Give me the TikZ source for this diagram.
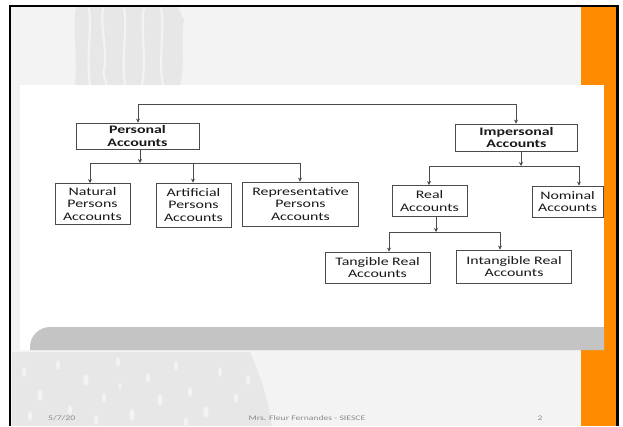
\documentclass[tikz,border=0pt]{standalone}
\usepackage{fontspec}
\setmainfont{Carlito}
\newfontfamily\boxfont[FakeStretch=1.38]{Carlito}
\usetikzlibrary{arrows.meta}
\definecolor{bgg}{HTML}{F3F3F3}
\definecolor{tex}{HTML}{E7E7E7}
\definecolor{orng}{HTML}{FF8C00}
\definecolor{band}{HTML}{C4C4C4}
\definecolor{ln}{HTML}{4A4A4A}
\definecolor{foot}{HTML}{8A8A8A}
\begin{document}
\begin{tikzpicture}[x=1pt,y=-1pt,
  acc/.style={draw=ln, line width=0.8pt, fill=white, inner sep=0pt, align=center,
    font=\boxfont\fontsize{11.5}{12.3}\selectfont, text=black!90},
  bacc/.style={acc, font=\boxfont\bfseries\fontsize{11.5}{12.3}\selectfont},
  conn/.style={draw=ln, line width=0.8pt},
  arr/.style={conn, -{Stealth[length=4pt,width=4pt]}},
  gap/.style={draw=bgg, line width=2.2pt, line cap=round},
  foottxt/.style={font=\boxfont\fontsize{7}{8}\selectfont, text=foot, inner sep=0pt}]
% background
\useasboundingbox (0,0) rectangle (623,426);
\fill[white] (0,0) rectangle (623,426);
\fill[bgg] (10,6) rectangle (617,426);
% texture top-left
\fill[tex] (76,7) .. controls (72,30) and (78,55) .. (75,85) -- (180,85)
  .. controls (186,60) and (180,40) .. (184,20) -- (178,7) -- cycle;
\draw[gap] (89,8) .. controls (92,35) and (86,55) .. (90,85);
\draw[gap] (103,8) .. controls (100,30) and (108,50) .. (104,70) .. controls (102,78) and (108,82) .. (106,85);
\draw[gap] (124,8) .. controls (128,30) and (121,55) .. (125,85);
\draw[gap] (144,8) .. controls (140,30) and (147,55) .. (142,85);
\draw[gap] (161,8) .. controls (165,30) and (158,60) .. (163,85);
% texture bottom-left
\fill[tex] (12,352) -- (250,352) .. controls (262,380) and (268,400) .. (272,426) -- (12,426) -- cycle;
\foreach \xa/\ya/\r in {24/372/2,40/395/2.5,58/365/2,70/410/2,86/380/2.5,104/398/2,118/362/2,132/415/2.5,148/378/2,160/400/2.5,176/366/2,190/392/2,206/412/2.5,220/372/2,236/398/2,248/380/2,30/416/2,96/420/2,186/422/2,120/386/1.5}{
  \fill[bgg] (\xa,\ya) ellipse ({\r pt} and {2.5*\r pt});
}
% orange band and borders
\fill[orng] (581,6) rectangle (616,426);
\fill[black] (616,5) rectangle (619,426);
\fill[black] (9,5) rectangle (619,7);
\fill[black] (9,5) rectangle (11,426);
% white content area
\fill[white] (20,85) rectangle (604,350);
\fill[band] (30,350) -- (30,347) .. controls (30,336) and (39,327) .. (50,327) -- (604,327) -- (604,350) -- cycle;
% nodes
\node[bacc, minimum width=123pt, minimum height=26pt] (per) at (137.5,136) {Personal\\Accounts};
\node[bacc, minimum width=122pt, minimum height=27pt] (imp) at (516.5,137.5) {Impersonal\\Accounts};
\node[acc, minimum width=75pt, minimum height=41pt] (nat) at (92.5,204) {Natural\\Persons\\Accounts};
\node[acc, minimum width=75pt, minimum height=44pt] (art) at (193.5,205) {Artificial\\Persons\\Accounts};
\node[acc, minimum width=116pt, minimum height=44pt] (rep) at (300.5,204) {Representative\\Persons\\Accounts};
\node[acc, minimum width=75pt, minimum height=31pt] (real) at (429.5,201) {Real\\Accounts};
\node[acc, minimum width=71pt, minimum height=31pt] (nom) at (567.5,201.5) {Nominal\\Accounts};
\node[acc, minimum width=105pt, minimum height=31pt] (tan) at (377.5,267.5) {Tangible Real\\Accounts};
\node[acc, minimum width=115pt, minimum height=33pt] (int) at (514,266.5) {Intangible Real\\Accounts};
% connectors
\coordinate (t1) at (138,104);
\coordinate (t2) at (516,104);
\draw[conn] (t1) -- (t2);
\draw[arr] (t1) -- (per.north -| t1);
\draw[arr] (t2) -- (imp.north -| t2);
% personal bus
\coordinate (pb) at (140,163);
\draw[arr] (per.south -| pb) -- (pb);
\draw[conn] (90,163) coordinate (pb1) -- (300,163) coordinate (pb3);
\coordinate (pb2) at (193,163);
\draw[arr] (pb1) -- (nat.north -| pb1);
\draw[arr] (pb2) -- (art.north -| pb2);
\draw[arr] (pb3) -- (rep.north -| pb3);
% impersonal bus
\coordinate (ib) at (521,166);
\draw[arr] (imp.south -| ib) -- (ib);
\draw[conn] (429,166) coordinate (ib1) -- (579,166) coordinate (ib2);
\draw[arr] (ib1) -- (real.north -| ib1);
\draw[arr] (ib2) -- (nom.north -| ib2);
% real bus
\coordinate (rb) at (436,232);
\draw[arr] (real.south -| rb) -- (rb);
\draw[conn] (389,232) coordinate (rb1) -- (500,232) coordinate (rb2);
\draw[arr] (rb1) -- (tan.north -| rb1);
\draw[arr] (rb2) -- (int.north -| rb2);
% footer
\node[foottxt, anchor=west] (date) at (48,418) {5/7/20};
\node[foottxt] (author) at (307,418) {Mrs. Fleur Fernandes - SIESCE};
\node[foottxt] (page) at (540,418) {2};
\end{tikzpicture}
\end{document}
